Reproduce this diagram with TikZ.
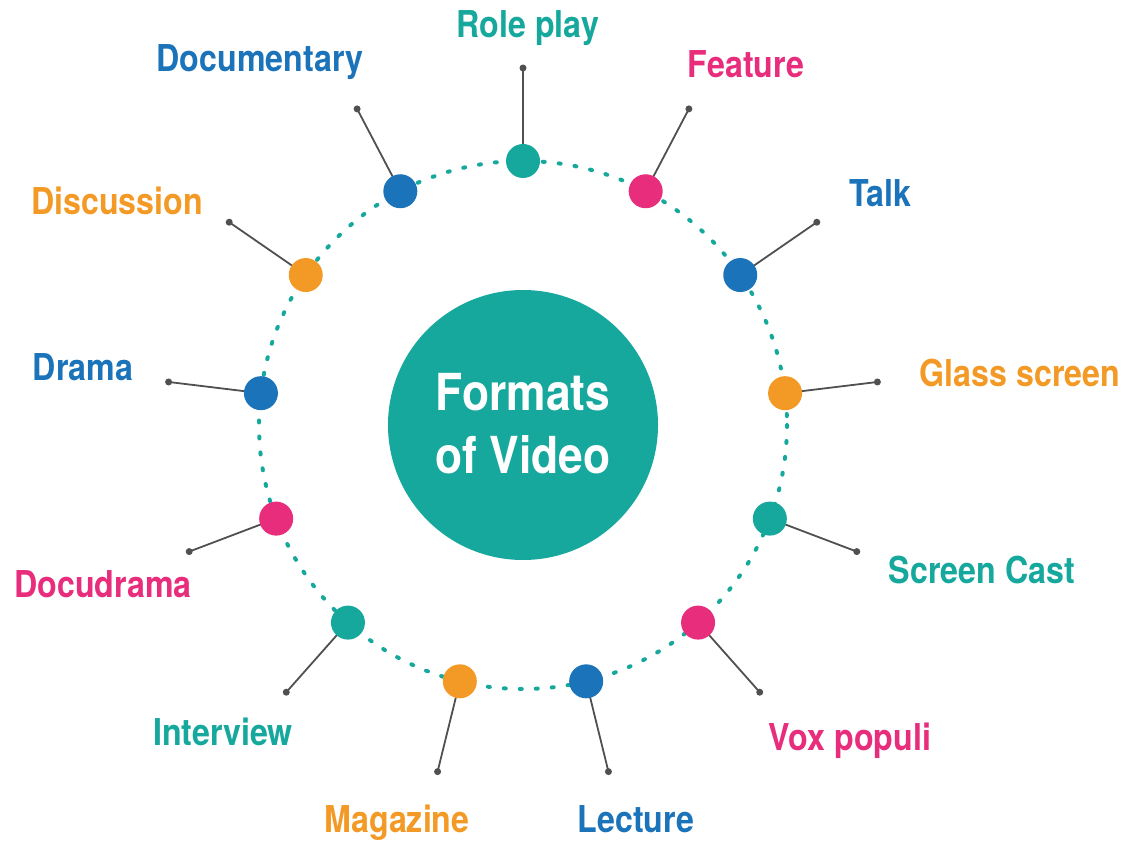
\documentclass[tikz,border=0pt]{standalone}
\usepackage{fontspec}
\usetikzlibrary{calc}
\setmainfont{TeX Gyre Heros}[FakeStretch=0.87]
\definecolor{cteal}{HTML}{16A89D}
\definecolor{cpink}{HTML}{E72D7C}
\definecolor{cblue}{HTML}{1B73BA}
\definecolor{corange}{HTML}{F39A26}
\definecolor{cgrey}{HTML}{505050}
\tikzset{
  ring/.style={draw=cteal, line width=4pt, line cap=round, dash pattern=on 2pt off 14pt},
  hub/.style={circle, fill=cteal, minimum size=270pt, inner sep=0pt},
  hubtext/.style={anchor=base, inner sep=0pt, text=white, font=\fontsize{51}{63}\selectfont\bfseries},
  dotnode/.style={circle, minimum size=34pt, inner sep=0pt},
  tipnode/.style={circle, fill=cgrey, minimum size=7pt, inner sep=0pt},
  link/.style={draw=cgrey, line width=1.8pt},
  label/.style={anchor=base, inner sep=0pt, font=\fontsize{37}{44}\selectfont\bfseries}
}
\begin{document}
\begin{tikzpicture}[x=1pt, y=-1pt]
  \useasboundingbox (0,0) rectangle (1126,842);
  \coordinate (c) at (523,425);
  % dotted ring
  \draw[ring] (c) circle[radius=264];
  % the thirteen formats, clockwise from the top
  \foreach \name/\col/\lx/\ly [count=\i from 0] in {
      Role play/cteal/528/38,
      Feature/cpink/746/78,
      Talk/cblue/880/207,
      Glass screen/corange/1020/386,
      Screen Cast/cteal/982/583,
      Vox populi/cpink/850/750,
      Lecture/cblue/636/832,
      Magazine/corange/397/832,
      Interview/cteal/223/745,
      Docudrama/cpink/103/597,
      Drama/cblue/83/380,
      Discussion/corange/117/215,
      Documentary/cblue/260/72}
  {
    \pgfmathsetmacro{\ang}{-90+\i*360/13}
    \node[tipnode] (t\i) at ($(c)+(\ang:357)$) {};
    \node[dotnode] (d\i) at ($(c)+(\ang:264)$) {};
    \draw[link] (d\i.center) -- (t\i.center);
    \node[dotnode, fill=\col] at (d\i) {};
    \node[label, text=\col] (l\i) at (\lx,\ly) {\name};
  }
  % central hub
  \node[hub] (h) at (c) {};
  \node[hubtext] (h1) at (523,410) {Formats};
  \node[hubtext] (h2) at (523,473) {of Video};
\end{tikzpicture}
\end{document}
